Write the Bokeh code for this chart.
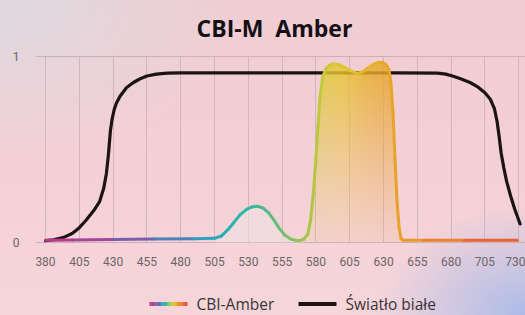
import numpy as np
from bokeh.plotting import figure
from bokeh.layouts import column
from bokeh.models import Range1d
from bokeh.core.properties import value
from bokeh.embed import file_html
from bokeh.resources import INLINE

# ---------------- data ----------------
x_ticks = [380, 405, 430, 455, 480, 505, 530, 555, 580, 605, 630, 655, 680, 705, 730]
y_ticks = [0, 1]

white_nm = [380, 386, 393.5, 400, 405, 410, 415.7, 420, 423, 425, 426.5, 428, 429.3, 430.8, 432.5,
            435, 440, 445, 450, 455, 462, 470, 480, 520, 580, 640, 670, 676, 681, 687,
            694, 700, 705, 709, 712, 714, 715.5, 717, 719, 721, 724, 727, 731]
white_val = [0.01, 0.015, 0.028, 0.05, 0.08, 0.12, 0.172, 0.22, 0.29, 0.37, 0.47, 0.6, 0.665, 0.715, 0.75,
             0.785, 0.833, 0.86, 0.88, 0.895, 0.905, 0.91, 0.912, 0.912, 0.912, 0.912, 0.91, 0.905, 0.895, 0.88,
             0.86, 0.835, 0.805, 0.77, 0.72, 0.65, 0.57, 0.48, 0.4, 0.33, 0.25, 0.18, 0.1]

amber_nm = [380, 400, 430, 460, 490, 505, 510, 515, 519, 524, 529, 533, 537, 541, 545,
            549, 553, 557, 561, 565, 568, 571, 574, 576, 578, 580, 581.5, 583, 585, 587.5,
            590, 593, 597, 601, 605, 610, 614, 618, 622, 626, 629, 632, 634, 635.5, 637,
            638.5, 640, 641.5, 643, 645, 660, 690, 729]
amber_val = [0.012, 0.014, 0.016, 0.019, 0.021, 0.023, 0.035, 0.07, 0.105, 0.15, 0.18, 0.192, 0.195, 0.185, 0.16,
             0.12, 0.075, 0.04, 0.02, 0.012, 0.01, 0.018, 0.045, 0.12, 0.26, 0.45, 0.62, 0.78, 0.89, 0.935,
             0.953, 0.96, 0.955, 0.942, 0.925, 0.91, 0.915, 0.935, 0.955, 0.968, 0.968, 0.955, 0.93, 0.86, 0.7,
             0.45, 0.22, 0.08, 0.02, 0.012, 0.012, 0.012, 0.012]

series_names = ["CBI-Amber", "\u015awiat\u0142o bia\u0142e"]
title_text = "CBI-M \u00a0Amber"

# ---------------- style ----------------
stop_nm = [380, 420, 460, 500, 530, 555, 572, 588, 605, 628, 645, 690, 730]
stop_rgb = [(194, 55, 138), (160, 72, 158), (96, 110, 178), (42, 166, 192), (52, 182, 168),
            (110, 190, 110), (160, 198, 72), (206, 202, 58), (228, 194, 48), (232, 172, 40),
            (234, 158, 42), (236, 118, 48), (232, 76, 53)]


def color_at(nm):
    r = np.interp(nm, stop_nm, [c[0] for c in stop_rgb])
    g = np.interp(nm, stop_nm, [c[1] for c in stop_rgb])
    b = np.interp(nm, stop_nm, [c[2] for c in stop_rgb])
    return "#%02x%02x%02x" % (int(r), int(g), int(b))


W = 525
H_TITLE, H_MAIN, H_LEG = 45, 235, 35
FRAME_L = 35
FRAME_TOP_ABS, FRAME_BOT_ABS = 55, 243


def strip(height):
    f = figure(width=W, height=height, output_backend="svg", toolbar_location=None,
               x_range=Range1d(FRAME_L, W), y_range=Range1d(height, 0),
               x_axis_type=None, y_axis_type=None, min_border=0,
               min_border_left=FRAME_L)
    f.grid.visible = False
    f.outline_line_color = None
    f.background_fill_alpha = 0
    f.border_fill_alpha = 0
    return f


# ---------------- title strip ----------------
top = strip(H_TITLE)
top.text(x=[274], y=[27], text=[title_text], text_align="center", text_baseline="middle",
         text_font=value("Open Sans"), text_font_style="bold", text_font_size="23px",
         text_color="#141014")

# ---------------- main chart ----------------
p = figure(width=W, height=H_MAIN, output_backend="svg", toolbar_location=None,
           x_range=Range1d(372.6, 735), y_range=Range1d(-0.005, 1.005),
           min_border_left=FRAME_L, min_border_right=0,
           min_border_top=FRAME_TOP_ABS - H_TITLE,
           min_border_bottom=H_TITLE + H_MAIN - FRAME_BOT_ABS)
p.background_fill_alpha = 0
p.border_fill_alpha = 0
p.outline_line_color = None

p.xgrid.ticker = x_ticks
p.ygrid.ticker = y_ticks
p.xgrid.grid_line_color = "#d2b6bd"
p.ygrid.grid_line_color = "#cdb0b7"

for ax in (p.xaxis[0], p.yaxis[0]):
    ax.axis_line_color = None
    ax.major_tick_line_color = None
    ax.minor_tick_line_color = None
    ax.major_label_text_font = "Roboto"
    ax.major_label_text_font_size = "12px"
    ax.major_label_text_color = "#6e6466"
p.xaxis.ticker = x_ticks
p.yaxis.ticker = y_ticks
p.xaxis.major_label_standoff = 7
p.yaxis.major_label_standoff = 10

# white light curve
p.line(white_nm, white_val, line_color="#1c1414", line_width=3.2,
       line_join="round", line_cap="round")

# fills under CBI-Amber
a_nm = np.array(amber_nm, dtype=float)
a_val = np.array(amber_val, dtype=float)
bump = (a_nm >= 505) & (a_nm <= 571)
p.varea(x=a_nm[bump], y1=0, y2=a_val[bump], fill_color="#ebe3e3", fill_alpha=0.55)

x0, x1 = 568.0, 646.0
nx, ny = 160, 220
gx = np.linspace(x0, x1, nx)
gy = np.linspace(0, 1, ny)
curve = np.interp(gx, a_nm, a_val)
fill_nm = [575, 598, 622, 645]
fill_rgb = [(214, 204, 62), (232, 198, 52), (232, 172, 44), (232, 160, 40)]
rr = np.interp(gx, fill_nm, [c[0] for c in fill_rgb])
gg = np.interp(gx, fill_nm, [c[1] for c in fill_rgb])
bb = np.interp(gx, fill_nm, [c[2] for c in fill_rgb])
img = np.zeros((ny, nx), dtype=np.uint32)
view = img.view(dtype=np.uint8).reshape((ny, nx, 4))
inside = gy[:, None] <= curve[None, :]
alpha = (0.1 + 0.8 * gy[:, None] ** 1.2) * np.ones((1, nx))
view[..., 0] = rr[None, :].astype(np.uint8)
view[..., 1] = gg[None, :].astype(np.uint8)
view[..., 2] = bb[None, :].astype(np.uint8)
view[..., 3] = np.where(inside, alpha * 255, 0).astype(np.uint8)
p.image_rgba(image=[img], x=x0, y=0, dw=x1 - x0, dh=1)

# CBI-Amber gradient line
sx0, sx1 = a_nm[:-1], a_nm[1:]
sy0, sy1 = a_val[:-1], a_val[1:]
seg_cols = [color_at((u + v) / 2) for u, v in zip(sx0, sx1)]
p.segment(x0=sx0, y0=sy0, x1=sx1, y1=sy1, line_color=seg_cols, line_width=3,
          line_cap="round")

# ---------------- legend strip ----------------
leg = strip(H_LEG)
ly = 23.5
n_sub = 16
xs_leg = np.linspace(149, 187, n_sub + 1)
wl_leg = np.linspace(380, 730, n_sub)
leg.segment(x0=xs_leg[:-1], y0=ly, x1=xs_leg[1:], y1=ly,
            line_color=[color_at(w) for w in wl_leg], line_width=4, line_cap="butt")
leg.segment(x0=[298], y0=ly, x1=[336], y1=ly, line_color="#1c1414", line_width=4)
leg.text(x=[196, 345], y=[ly, ly], text=series_names, text_baseline="middle",
         text_font=value("Open Sans"), text_font_size="15.5px", text_color="#3a3336")

layout = column(top, p, leg, spacing=0)
layout.styles = {
    "background": "radial-gradient(ellipse 150px 110px at 100% 100%, rgba(168,186,232,0.95), rgba(168,186,232,0)),"
                  "radial-gradient(ellipse 240px 170px at 0% 0%, rgba(222,218,224,1), rgba(222,218,224,0)),"
                  "linear-gradient(180deg, #efcdd2 0%, #f4cfd5 45%, #f6d6db 100%)",
}

open("out.html", "w").write(file_html(layout, INLINE))
